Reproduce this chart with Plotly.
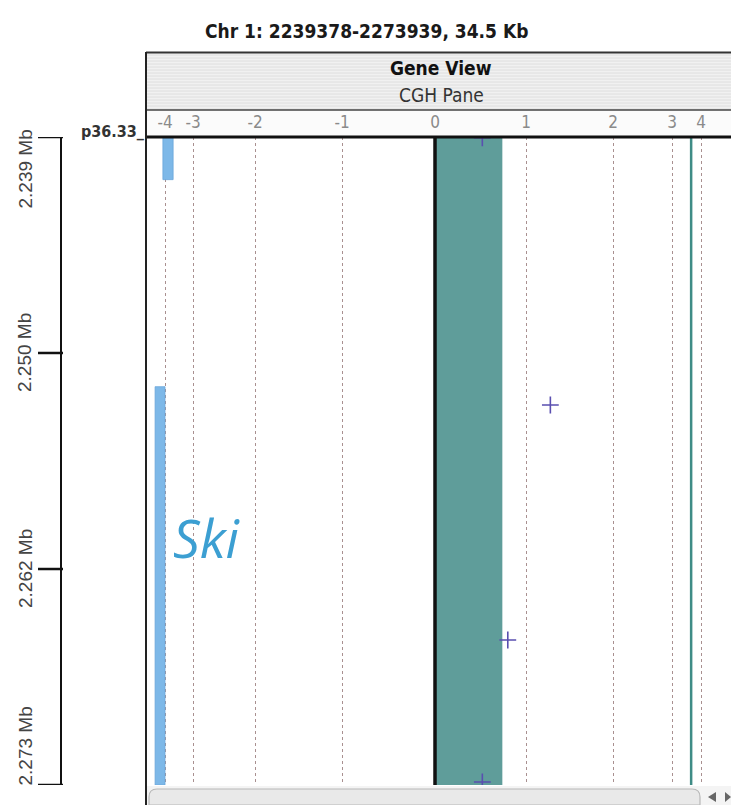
import numpy as np
import plotly.graph_objects as go

W, H = 731, 805

# ---- data -------------------------------------------------------------
region_start, region_end = 2239378, 2273939
title_text = "Chr 1: 2239378-2273939, 34.5 Kb"
band_label = "p36.33_"
gene_label = "Ski"

ratio_ticks = [-4, -3, -2, -1, 0, 1, 2, 3, 4]
ratio_tick_text = ["-4", "-3", "-2", "-1", "0", "1", "2", "3", "4"]

ruler_ticks = [2239378, 2250898, 2262419, 2273939]
ruler_labels = ["2.239 Mb", "2.250 Mb", "2.262 Mb", "2.273 Mb"]

# gene features: genomic extent and lane (in ratio units)
gene_starts = [2239378, 2252695]
gene_ends = [2241652, 2273939]
gene_lane_lo = [-4.07, -4.33]
gene_lane_hi = [-3.71, -4.00]

# CGH segment and level line
segment_start, segment_end = 2239378, 2273939
segment_mean = 0.74
level_line = 3.66

# probes
probe_pos = [2239420, 2253672, 2266206, 2273779]
probe_ratio = [0.52, 1.28, 0.80, 0.52]

# ---- compressed log-ratio scale -----------------------------------------
scale_knots = [-5, -4, -3, -2, -1, 0, 1, 2, 3, 4, 5]
scale_units = [-300, -270, -242, -180, -93, 0, 91, 178, 237, 266, 300]


def warp(v):
    return np.interp(np.asarray(v, dtype=float), scale_knots, scale_units)


def px(xp):
    return xp / W


def py(yp):
    return 1 - yp / H


PLOT_L, PLOT_T, PLOT_B = 146, 137, 785
ZERO_PX = 435

fig = go.Figure()

# CGH segment (teal block)
fig.add_trace(go.Bar(
    orientation="h",
    y=[(segment_start + segment_end) / 2],
    x=[float(warp(segment_mean) - warp(0))],
    base=[float(warp(0))],
    width=[segment_end - segment_start],
    marker=dict(color="#5f9d9a", line=dict(width=0)),
    hoverinfo="skip", showlegend=False,
))

# gene features (blue bars)
lo = warp(gene_lane_lo)
hi = warp(gene_lane_hi)
fig.add_trace(go.Bar(
    orientation="v",
    x=list((lo + hi) / 2),
    y=[e - s for s, e in zip(gene_starts, gene_ends)],
    base=gene_starts,
    width=list(hi - lo),
    marker=dict(color="#7db8e8", line=dict(color="#6aa6da", width=0.8)),
    hoverinfo="skip", showlegend=False,
))

# zero line
fig.add_trace(go.Scatter(
    x=[float(warp(0))] * 2, y=[region_start, region_end], mode="lines",
    line=dict(color="#111111", width=3.5), hoverinfo="skip", showlegend=False,
))

# level line
fig.add_trace(go.Scatter(
    x=[float(warp(level_line))] * 2, y=[region_start, region_end], mode="lines",
    line=dict(color="#3f8c86", width=2.5), hoverinfo="skip", showlegend=False,
))

# probes
fig.add_trace(go.Scatter(
    x=list(warp(probe_ratio)), y=probe_pos, mode="markers",
    marker=dict(symbol="cross-thin", size=12,
                line=dict(color="#5a4fb0", width=1.6)),
    hoverinfo="skip", showlegend=False,
))

shapes = []

# header box with faint stripes (kept under the axis labels)
shapes.append(dict(type="rect", xref="paper", yref="paper",
                   x0=px(PLOT_L), x1=1, y0=py(110), y1=py(52),
                   fillcolor="#f1f1f1", line=dict(width=0), layer="below"))
for yy in np.arange(55, 110, 3):
    shapes.append(dict(type="line", xref="paper", yref="paper",
                       x0=px(PLOT_L), x1=1, y0=py(yy), y1=py(yy),
                       line=dict(color="#dedede", width=1), layer="below"))
shapes.append(dict(type="rect", xref="paper", yref="paper",
                   x0=px(PLOT_L), x1=1, y0=py(136), y1=py(110),
                   fillcolor="#fbfbfb", line=dict(width=0), layer="below"))
# header borders
shapes.append(dict(type="line", xref="paper", yref="paper",
                   x0=px(PLOT_L), x1=1, y0=py(52.5), y1=py(52.5),
                   line=dict(color="#333333", width=2), layer="above"))
shapes.append(dict(type="line", xref="paper", yref="paper",
                   x0=px(PLOT_L), x1=1, y0=py(110), y1=py(110),
                   line=dict(color="#444444", width=1.5), layer="above"))
shapes.append(dict(type="line", xref="paper", yref="paper",
                   x0=px(PLOT_L), x1=1, y0=py(137), y1=py(137),
                   line=dict(color="#111111", width=3), layer="above"))
# frame left edge
shapes.append(dict(type="line", xref="paper", yref="paper",
                   x0=px(PLOT_L), x1=px(PLOT_L), y0=py(52), y1=0,
                   line=dict(color="#222222", width=2), layer="above"))

# scrollbar
shapes.append(dict(type="rect", xref="paper", yref="paper",
                   x0=px(PLOT_L + 1), x1=1, y0=0, y1=py(786),
                   fillcolor="#f4f4f4", line=dict(width=0), layer="above"))
r = 8
x0s, x1s, y0s, y1s = 149, 700, 789, 805
path = (f"M {px(x0s + r)},{py(y0s)} L {px(x1s - r)},{py(y0s)} "
        f"Q {px(x1s)},{py(y0s)} {px(x1s)},{py(y0s + r)} "
        f"L {px(x1s)},{py(y1s)} L {px(x0s)},{py(y1s)} L {px(x0s)},{py(y0s + r)} "
        f"Q {px(x0s)},{py(y0s)} {px(x0s + r)},{py(y0s)} Z")
shapes.append(dict(type="path", xref="paper", yref="paper", path=path,
                   fillcolor="#e9e9e9", line=dict(color="#b8b8b8", width=1.2),
                   layer="above"))
shapes.append(dict(type="path", xref="paper", yref="paper",
                   path=f"M {px(708)},{py(797)} L {px(716)},{py(792)} L {px(716)},{py(802)} Z",
                   fillcolor="#666666", line=dict(width=0), layer="above"))
shapes.append(dict(type="path", xref="paper", yref="paper",
                   path=f"M {px(731)},{py(797)} L {px(725)},{py(792)} L {px(725)},{py(802)} Z",
                   fillcolor="#666666", line=dict(width=0), layer="above"))

# left chromosome ruler
shapes.append(dict(type="line", xref="paper", yref="y",
                   x0=px(61), x1=px(61), y0=region_start, y1=region_end,
                   line=dict(color="#111111", width=2), layer="above"))
for t in ruler_ticks:
    shapes.append(dict(type="line", xref="paper", yref="y",
                       x0=px(38), x1=px(63), y0=t, y1=t,
                       line=dict(color="#111111", width=2.5), layer="above"))

annotations = [
    dict(text=f"<b>{title_text}</b>", x=px(366), y=py(31), xref="paper", yref="paper",
         showarrow=False, xanchor="center", yanchor="middle",
         font=dict(family="Liberation Sans Narrow, DejaVu Sans Condensed, Arial Narrow, sans-serif",
                   size=19, color="#1a1a1a")),
    dict(text="<b>Gene View</b>", x=px(441), y=py(68), xref="paper", yref="paper",
         showarrow=False, xanchor="center", yanchor="middle",
         font=dict(family="DejaVu Sans Condensed, Tahoma, sans-serif", size=19, color="#111111")),
    dict(text="CGH Pane", x=px(441), y=py(95), xref="paper", yref="paper",
         showarrow=False, xanchor="center", yanchor="middle",
         font=dict(family="DejaVu Sans Condensed, Tahoma, sans-serif", size=19, color="#333333")),
    dict(text=f"<b>{band_label}</b>", x=px(147), y=py(131), xref="paper", yref="paper",
         showarrow=False, xanchor="right", yanchor="middle",
         font=dict(family="Liberation Sans Narrow, DejaVu Sans Condensed, sans-serif",
                   size=16, color="#333333")),
    dict(text=f"<i>{gene_label}</i>", x=px(206), y=py(537), xref="paper", yref="paper",
         showarrow=False, xanchor="center", yanchor="middle",
         font=dict(family="Open Sans, sans-serif", size=53, color="#3c9fd2")),
]

for i, (t, lab) in enumerate(zip(ruler_ticks, ruler_labels)):
    if i == 0:
        ya, ys = "top", 9
    elif i == len(ruler_ticks) - 1:
        ya, ys = "bottom", -3
    else:
        ya, ys = "middle", 0
    annotations.append(dict(
        text=lab, x=px(25), y=t, xref="paper", yref="y", textangle=-90,
        showarrow=False, xanchor="center", yanchor=ya, yshift=ys,
        font=dict(family="Liberation Sans, Arial, sans-serif", size=19, color="#444444")))

fig.update_layout(
    width=W, height=H,
    margin=dict(l=0, r=0, t=0, b=0),
    paper_bgcolor="white", plot_bgcolor="white",
    barmode="overlay",
    shapes=shapes, annotations=annotations,
    xaxis=dict(
        domain=[px(PLOT_L), 1],
        range=[PLOT_L - ZERO_PX, W - ZERO_PX],
        tickvals=list(warp(ratio_ticks)), ticktext=ratio_tick_text,
        side="top", ticks="", showline=False, zeroline=False,
        showgrid=True, gridcolor="#a99090", gridwidth=1.4, griddash="dot",
        ticklabelstandoff=5,
        tickfont=dict(family="Liberation Sans Narrow, DejaVu Sans Condensed, sans-serif",
                      size=17, color="#8a8a8a"),
        fixedrange=True,
    ),
    yaxis=dict(
        domain=[py(PLOT_B), py(PLOT_T)],
        range=[region_end, region_start],
        showticklabels=False, ticks="", showgrid=False, zeroline=False, showline=False,
        fixedrange=True,
    ),
)

fig.write_html("out.html")
